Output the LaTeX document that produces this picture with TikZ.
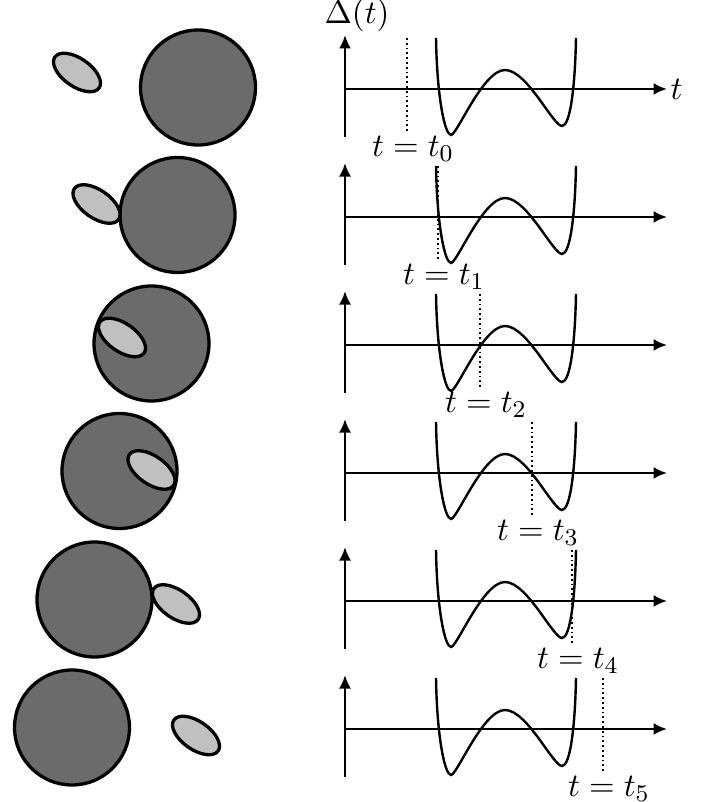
\documentclass[tikz,border=0pt]{standalone}
\usepackage{amsmath,amssymb}
\usepackage{tikz}
\usetikzlibrary{arrows.meta}
\definecolor{diskgray}{HTML}{6B6B6B}
\definecolor{blobgray}{HTML}{C0C0C0}
\tikzset{
  every node/.append style={font=\fontsize{11}{13}\selectfont},
  bigdisk/.style={fill=diskgray, draw=black, line width=1.1pt},
  blob/.style={fill=blobgray, draw=black, line width=1.1pt},
  axisline/.style={line width=0.8pt, -{Latex[length=4.5pt,width=4pt]}},
  wellcurve/.style={line width=0.8pt},
  timemark/.style={densely dotted, line width=0.6pt},
}
\begin{document}
\begin{tikzpicture}[x=0.333pt,y=0.333pt]
  \useasboundingbox (0,0) rectangle (706,802);
  % one row per time step: disk, blob, axes, potential, marker
  \foreach \i/\cx/\cy/\ex/\ey/\tm in {0/-147/1.5/-268/16.5/62,1/-167.5/2/-248.5/13/93,2/-193.5/1.5/-223/7.5/135,3/-225.5/2/-193.5/3/187,4/-250.5/1.5/-169/-3/227,5/-273/1.5/-149/-6.5/258}{
    \begin{scope}[shift={(345,713-128*\i)}]
      \coordinate (top\i) at (0,54);
      \coordinate (end\i) at (322,0);
      \coordinate (mark\i) at (\tm,-45);
      \draw[bigdisk] (\cx,\cy) circle (57.5);
      \draw[blob, rotate around={-35:(\ex,\ey)}] (\ex,\ey) ellipse (27 and 14);
      \draw[axisline] (0,-48) -- (top\i);
      \draw[axisline] (0,0) -- (end\i);
      \draw[wellcurve] (91,51) .. controls (92,-10) and (100,-46) .. (106,-46)
        .. controls (112,-46) and (138,19) .. (160,19)
        .. controls (182,19) and (208,-37) .. (217,-37)
        .. controls (225,-37) and (230,0) .. (231,51);
      \node[below, inner sep=0pt, xshift=2pt, yshift=-0.5pt] (lab\i) at (mark\i) {$t=t_{\i}$};
      \draw[timemark] (\tm,51) -- (mark\i);
    \end{scope}
  }
  \node[above, inner sep=1pt, xshift=4pt] (dlabel) at (top0) {$\Delta(t)$};
  \node[right, inner sep=1pt] (tlabel) at (end0) {$t$};
\end{tikzpicture}
\end{document}
